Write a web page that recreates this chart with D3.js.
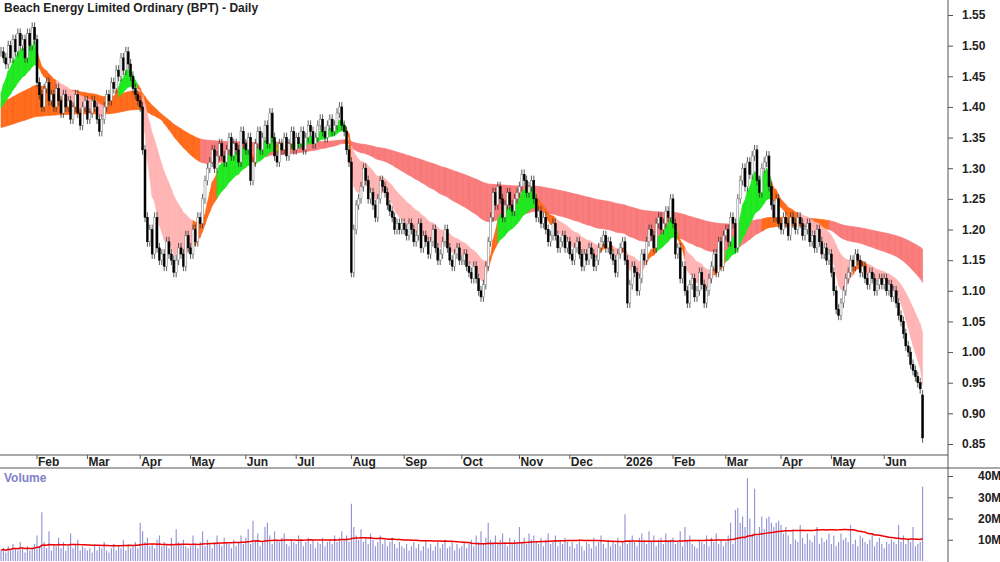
<!DOCTYPE html>
<html lang="en">
<head>
<meta charset="utf-8">
<title>BPT Daily</title>
<script src="https://cdn.jsdelivr.net/npm/d3@7"></script>
<style>
  body { margin: 0; background: white; }
  text { font-family: "Liberation Sans", Arial, sans-serif; }
</style>
</head>
<body>
<script>
// daily closes, one array per month
var jan25 = [1.49,1.48,1.47,1.50,1.48,1.51,1.49,1.52,1.50,1.51,1.48,1.52,1.50,1.53,1.51];
var feb25 = [1.44,1.42,1.40,1.43,1.44,1.41,1.42,1.40,1.43,1.41,1.39,1.42,1.40,1.41,1.38,1.40,1.42,1.39,1.37,1.40,1.41];
var mar25 = [1.38,1.39,1.41,1.40,1.38,1.36,1.38,1.40,1.42,1.41,1.44,1.43,1.46,1.45,1.48,1.46,1.49,1.47,1.45,1.43,1.42,1.41];
var apr25 = [1.40,1.33,1.22,1.18,1.20,1.16,1.22,1.17,1.15,1.16,1.14,1.18,1.16,1.15,1.13,1.15,1.17,1.16,1.14,1.19,1.17];
var may25 = [1.16,1.20,1.18,1.22,1.21,1.25,1.28,1.30,1.31,1.33,1.30,1.32,1.34,1.32,1.31,1.33,1.35,1.32,1.34,1.33,1.31,1.36,1.34];
var jun25 = [1.33,1.35,1.28,1.31,1.34,1.36,1.33,1.35,1.37,1.34,1.39,1.35,1.32,1.31,1.34,1.33,1.35,1.32,1.34,1.36,1.33];
var jul25 = [1.35,1.34,1.36,1.33,1.35,1.37,1.36,1.34,1.35,1.37,1.38,1.36,1.35,1.37,1.38,1.36,1.37,1.39,1.40,1.37,1.36,1.33,1.31];
var aug25 = [1.13,1.20,1.24,1.25,1.27,1.30,1.28,1.25,1.26,1.24,1.22,1.25,1.28,1.27,1.26,1.24,1.23,1.22,1.20,1.21,1.20,1.21];
var sep25 = [1.20,1.19,1.21,1.20,1.18,1.19,1.21,1.17,1.19,1.18,1.16,1.18,1.20,1.17,1.15,1.16,1.18,1.20,1.17,1.15,1.14,1.16,1.17,1.15];
var oct25 = [1.15,1.16,1.14,1.13,1.12,1.14,1.12,1.10,1.09,1.11,1.14,1.18,1.22,1.26,1.24,1.27,1.25,1.22,1.24,1.26,1.24,1.23,1.25,1.26];
var nov25 = [1.27,1.29,1.28,1.26,1.27,1.28,1.25,1.22,1.23,1.21,1.22,1.20,1.18,1.19,1.21,1.19,1.17,1.18,1.19,1.17,1.18];
var dec25 = [1.16,1.15,1.17,1.18,1.16,1.14,1.16,1.15,1.17,1.16,1.14,1.15,1.17,1.18,1.19,1.17,1.18,1.16,1.15,1.13,1.16,1.17,1.18];
var jan26 = [1.15,1.08,1.11,1.14,1.13,1.10,1.12,1.16,1.15,1.18,1.20,1.19,1.17,1.21,1.22,1.20,1.21,1.23,1.22,1.25];
var feb26 = [1.21,1.16,1.17,1.12,1.14,1.10,1.08,1.11,1.12,1.09,1.10,1.13,1.11,1.08,1.10,1.12,1.14,1.16,1.13,1.18,1.14,1.19];
var mar26 = [1.20,1.18,1.22,1.21,1.17,1.25,1.28,1.30,1.27,1.31,1.29,1.32,1.33,1.28,1.26,1.30,1.31,1.32,1.27,1.24,1.22,1.25,1.21];
var apr26 = [1.20,1.22,1.21,1.19,1.22,1.21,1.20,1.22,1.21,1.19,1.20,1.21,1.18,1.19,1.17,1.20,1.18,1.16,1.17,1.15,1.16];
var may26 = [1.13,1.10,1.07,1.06,1.08,1.10,1.12,1.13,1.15,1.14,1.16,1.15,1.13,1.14,1.12,1.11,1.13,1.12,1.10,1.11,1.12,1.11];
var jun26 = [1.12,1.10,1.11,1.09,1.10,1.08,1.06,1.05,1.03,1.01,1.00,0.98,0.97,0.96,0.95,0.94,0.86];

// daily volume in millions
var volJan25 = [5,6,4,7,5,8,6,5,9,6,4,7,5,6,8];
var volFeb25 = [12,7,23,9,6,14,5,8,7,11,6,9,5,7,13,6,8,10,5,7,6];
var volMar25 = [5,6,4,8,5,7,6,9,5,4,6,8,5,7,6,10,5,8,6,7,9,6];
var volApr25 = [18,14,9,11,7,8,6,10,12,7,9,8,6,11,7,15,9,8,10,7,6];
var volMay25 = [7,12,8,6,9,14,7,10,8,6,9,12,8,7,11,9,8,6,10,7,9,12,8];
var volJun25 = [11,15,8,19,10,13,7,9,16,18,12,8,14,10,9,11,13,8,7,10,9];
var volJul25 = [8,12,10,7,9,11,8,10,6,9,8,11,7,9,10,8,12,9,11,14,10,12,9];
var volAug25 = [27,16,12,10,15,9,11,8,13,10,7,9,12,8,10,7,9,11,8,6,9,7];
var volSep25 = [6,8,5,7,9,6,8,5,7,10,6,8,5,7,9,6,8,10,6,7,9,5,8,6];
var volOct25 = [7,9,6,8,10,7,12,9,14,8,11,18,10,9,12,8,10,13,9,7,11,8,10,9];
var volNov25 = [16,9,11,8,13,10,12,9,8,11,7,10,13,8,9,12,7,10,8,11,9];
var volDec25 = [7,9,6,8,10,7,5,9,8,6,11,7,9,12,8,6,10,7,9,8,11,7,9];
var volJan26 = [22,8,10,12,9,7,11,13,10,8,14,9,12,7,10,11,8,13,9,10];
var volFeb26 = [11,8,9,14,7,16,10,12,8,7,6,10,9,8,12,7,11,9,13,8,10,7];
var volMar26 = [9,12,18,8,24,25,18,21,16,39,20,13,34,12,16,21,15,20,21,18,16,18,19];
var volApr26 = [17,13,16,12,8,15,10,9,17,11,8,13,10,9,12,16,8,11,9,10,13];
var volMay26 = [8,12,7,9,13,10,11,9,17,8,10,7,12,11,9,8,10,13,7,9,11,8];
var volJun26 = [6,9,8,10,9,8,17,9,12,8,10,9,16,7,8,9,35];

var monthLabels = ["Feb","Mar","Apr","May","Jun","Jul","Aug","Sep","Oct","Nov","Dec","2026","Feb","Mar","Apr","May","Jun"];
var priceTicks = [0.85,0.90,0.95,1.00,1.05,1.10,1.15,1.20,1.25,1.30,1.35,1.40,1.45,1.50,1.55];
var volTicks = [10,20,30,40];
var shortPeriods = [7,9,12,15,19,25];
var longPeriods = [80,100,120,140,165,200];
var shortSeed = [1.40,1.398,1.396,1.394,1.392,1.39];
var longSeed = [1.405,1.40,1.395,1.39,1.38,1.365];

var months = [jan25,feb25,mar25,apr25,may25,jun25,jul25,aug25,sep25,oct25,nov25,dec25,jan26,feb26,mar26,apr26,may26,jun26];
var vmonths = [volJan25,volFeb25,volMar25,volApr25,volMay25,volJun25,volJul25,volAug25,volSep25,volOct25,volNov25,volDec25,volJan26,volFeb26,volMar26,volApr26,volMay26,volJun26];

var closes = [].concat.apply([], months);
var vols = [].concat.apply([], vmonths);
var monthStart = [];
var acc = 0;
months.forEach(function(m, i) { if (i > 0) monthStart.push(acc); acc += m.length; });

var candles = closes.map(function(c, i) {
  var o = i == 0 ? c : (i == closes.length - 1 ? 0.93 : closes[i-1]);
  return {i: i, o: o, c: c, h: Math.max(o, c) + 0.008, l: Math.min(o, c) - 0.008};
});

function ema(period, seed) {
  var k = 2 / (period + 1), v = seed;
  return closes.map(function(c) { v = v + k * (c - v); return v; });
}
var shortE = shortPeriods.map(function(p, j) { return ema(p, shortSeed[j]); });
var longE = longPeriods.map(function(p, j) { return ema(p, longSeed[j]); });

var W = 1000, H = 562, plotR = 948;
var svg = d3.select("body").append("svg").attr("width", W).attr("height", H);

var x = d3.scaleLinear().domain([0, closes.length - 1]).range([1, 922.6]);
var y = d3.scaleLinear().domain([0.85, 1.55]).range([444, 15]);
var yv = d3.scaleLinear().domain([0, 40]).range([561, 476]);

// ribbons: ordered up / ordered down / mixed
function ribbon(set, up, down, mixed) {
  for (var i = 0; i < closes.length - 1; i++) {
    var vals = set.map(function(s) { return s[i]; });
    var asc = true, desc = true;
    for (var j = 1; j < vals.length; j++) {
      if (vals[j] > vals[j-1]) asc = false;
      if (vals[j] < vals[j-1]) desc = false;
    }
    var col = asc ? up : (desc ? down : mixed);
    var t0 = d3.max(set, function(s) { return s[i]; }), b0 = d3.min(set, function(s) { return s[i]; });
    var t1 = d3.max(set, function(s) { return s[i+1]; }), b1 = d3.min(set, function(s) { return s[i+1]; });
    svg.append("path")
      .attr("d", "M" + x(i) + "," + y(t0) + "L" + x(i+1) + "," + y(t1) + "L" + x(i+1) + "," + y(b1) + "L" + x(i) + "," + y(b0) + "Z")
      .attr("fill", col).attr("stroke", col).attr("stroke-width", 0.6);
  }
}
ribbon(longE, "#ff6a1a", "#f97a7a", "#ff6a1a");
ribbon(shortE, "#1ee81e", "#ffb4b4", "#ff6a1a");

// candles
var g = svg.append("g");
g.selectAll("line.wick").data(candles).enter().append("line")
  .attr("x1", function(d) { return x(d.i); }).attr("x2", function(d) { return x(d.i); })
  .attr("y1", function(d) { return y(d.h); }).attr("y2", function(d) { return y(d.l); })
  .attr("stroke", "#333").attr("stroke-width", 0.8);
g.selectAll("rect.body").data(candles).enter().append("rect")
  .attr("x", function(d) { return x(d.i) - 1; }).attr("width", 2)
  .attr("y", function(d) { return y(Math.max(d.o, d.c)); })
  .attr("height", function(d) { return Math.max(1, y(Math.min(d.o, d.c)) - y(Math.max(d.o, d.c))); })
  .attr("fill", function(d) { return d.c < d.o ? "#000" : "#fff"; })
  .attr("stroke", function(d) { return d.c < d.o ? "#000" : "#777"; }).attr("stroke-width", 0.5);

// frame
svg.append("line").attr("x1", plotR).attr("x2", plotR).attr("y1", 0).attr("y2", H).attr("stroke", "#555");
svg.append("line").attr("x1", 0).attr("x2", plotR).attr("y1", 455).attr("y2", 455).attr("stroke", "#555");
svg.append("line").attr("x1", 0).attr("x2", W).attr("y1", 468).attr("y2", 468).attr("stroke", "#555");

// price axis
var pa = svg.append("g").attr("transform", "translate(" + plotR + ",0)")
  .call(d3.axisRight(y).tickValues(priceTicks).tickFormat(d3.format(".2f")).tickSize(5));
pa.select(".domain").remove();
pa.selectAll("text").attr("x", 14).attr("font-size", 12).attr("font-weight", "bold").attr("fill", "#222");
pa.selectAll("line").attr("stroke", "#555");

// volume axis
var va = svg.append("g").attr("transform", "translate(" + plotR + ",0)")
  .call(d3.axisRight(yv).tickValues(volTicks).tickFormat(function(d) { return d + "M"; }).tickSize(5));
va.select(".domain").remove();
va.selectAll("text").attr("x", 30).attr("font-size", 12).attr("font-weight", "bold").attr("fill", "#222");
va.selectAll("line").attr("stroke", "#555");

// month labels
var mg = svg.append("g");
monthStart.forEach(function(idx, k) {
  var px = x(idx);
  mg.append("line").attr("x1", px).attr("x2", px).attr("y1", 455).attr("y2", 459).attr("stroke", "#555");
  mg.append("text").attr("x", px + 1).attr("y", 466).attr("font-size", 12).attr("font-weight", "bold")
    .attr("fill", "#222").text(monthLabels[k]);
});

// volume bars
svg.append("g").selectAll("line").data(vols).enter().append("line")
  .attr("x1", function(d, i) { return x(i); }).attr("x2", function(d, i) { return x(i); })
  .attr("y1", function(d) { return yv(d); }).attr("y2", yv(0))
  .attr("stroke", "#8f8fd6").attr("stroke-width", 1.1);

// volume moving average (50 day)
var vma = vols.map(function(v, i) {
  var s = vols.slice(Math.max(0, i - 49), i + 1);
  return d3.mean(s);
});
svg.append("path").datum(vma)
  .attr("d", d3.line().x(function(d, i) { return x(i); }).y(function(d) { return yv(d); }))
  .attr("fill", "none").attr("stroke", "#e00").attr("stroke-width", 1.5);

svg.append("text").attr("x", 4).attr("y", 482).attr("font-size", 12).attr("font-weight", "bold")
  .attr("fill", "#8080c8").text("Volume");
svg.append("text").attr("x", 4).attr("y", 12).attr("font-size", 12).attr("font-weight", "bold")
  .attr("fill", "#222").text("Beach Energy Limited Ordinary (BPT) - Daily");
</script>
</body>
</html>
